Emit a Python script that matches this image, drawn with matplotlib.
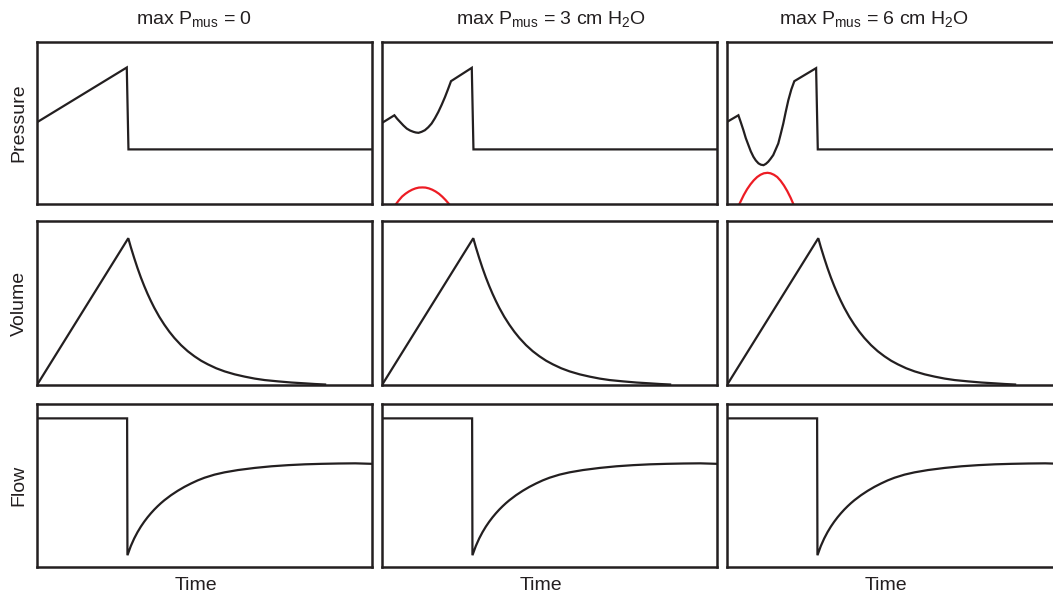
import matplotlib
matplotlib.use("Agg")
import matplotlib.pyplot as plt

plt.rcParams['font.family'] = ['Liberation Sans', 'DejaVu Sans']
plt.rcParams['mathtext.default'] = 'regular'

# ---------------- data (time and values in arbitrary units 0-100) ----------------
col_titles = ["max P$_{mus}$ = 0", "max P$_{mus}$ = 3 cm H$_2$O", "max P$_{mus}$ = 6 cm H$_2$O"]
row_labels = ["Pressure", "Volume", "Flow"]
x_label = "Time"

# Airway pressure, column 1 (no muscle effort)
p0_t = [0, 26.8, 27.3, 100]
p0_v = [50.3, 84.0, 33.6, 33.6]

# Airway pressure, column 2 (Pmus = 3)
p3_t = [0, 3.7, 4.5, 5.4, 6.4, 7.4, 8.4, 9.4, 10.1, 10.9, 11.8, 12.8, 13.8, 14.8,
        15.8, 16.8, 17.8, 18.8, 19.7, 20.6, 26.8, 27.3, 100]
p3_v = [49.9, 54.6, 52.5, 50.5, 48.3, 46.4, 45.2, 44.4, 44.0, 43.8, 44.4, 45.4, 47.2, 49.5,
        52.8, 56.6, 61.0, 65.8, 70.6, 75.6, 83.8, 33.6, 33.6]

# Airway pressure, column 3 (Pmus = 6)
p6_t = [0, 3.4, 4.1, 4.9, 5.6, 6.4, 7.1, 7.9, 8.6, 9.4, 10.1, 10.9, 11.6, 12.3, 13.0,
        13.8, 14.5, 15.3, 16.0, 16.8, 17.5, 18.3, 19.2, 20.1, 26.6, 27.1, 100]
p6_v = [50.5, 54.6, 50.4, 45.4, 40.6, 36.2, 32.4, 29.0, 26.8, 25.0, 24.2, 23.9, 24.7, 26.0, 27.8,
        30.1, 33.4, 37.2, 42.8, 49.5, 56.4, 63.8, 70.5, 75.6, 83.6, 33.6, 33.6]

# Muscle pressure (red)
m3_t = [4.2, 5, 6, 7, 8, 9, 10, 11, 12.1, 13, 14, 15, 16, 17, 18, 19, 20]
m3_v = [0, 2.2, 4.6, 6.3, 7.7, 8.8, 9.6, 10.1, 10.2, 10.1, 9.6, 8.8, 7.7, 6.3, 4.5, 2.4, 0]
m6_t = [3.7, 5, 6, 7, 8, 9, 10, 11, 12.1, 13, 14, 15, 16, 17, 18, 19, 19.8]
m6_v = [0, 5.5, 9.1, 12.1, 14.6, 16.6, 18.0, 18.9, 19.2, 18.9, 18.0, 16.6, 14.3, 11.4, 7.9, 3.8, 0]

# Volume (same in all columns)
vol_t = [0, 27.25, 28, 29, 30, 31, 32, 33, 34, 35, 36.5, 38, 39.5, 41, 43, 45, 47, 49, 51,
         53.5, 56, 59, 62, 65, 68, 72, 76, 80, 83, 86]
vol_v = [0, 89.5, 84.1, 77.5, 71.3, 65.6, 60.4, 55.6, 51.2, 47.1, 41.6, 36.8, 32.5, 28.7, 24.3,
         20.6, 17.5, 14.8, 12.6, 10.2, 8.3, 6.5, 5.1, 3.9, 3.0, 2.2, 1.5, 1.0, 0.6, 0.3]

# Flow (same in all columns)
flow_t = [0, 26.9, 27.0, 28, 29, 30, 31, 32, 33, 34, 35, 36, 37, 38, 40, 42, 44, 46, 48, 50,
          53, 56, 60, 65, 70, 75, 80, 85, 90, 95, 100]
flow_v = [90.9, 90.9, 7.2, 12.8, 17.4, 21.3, 24.7, 27.7, 30.4, 32.85, 35.1, 37.15, 39.05, 40.8,
          43.9, 46.6, 49.0, 51.1, 53.0, 54.6, 56.5, 57.9, 59.3, 60.6, 61.6, 62.3, 62.8, 63.1,
          63.3, 63.4, 63.1]

pressure_series = [(p0_t, p0_v), (p3_t, p3_v), (p6_t, p6_v)]
muscle_series = [None, (m3_t, m3_v), (m6_t, m6_v)]

# ---------------- layout ----------------
W, H = 1053, 599
fig = plt.figure(figsize=(W / 100, H / 100), dpi=100)

col_left = [37, 382, 727]
col_w = 335
rows = [(41.5, 204), (221, 385), (403.5, 567)]

black = '#231f20'
red = '#ed1c24'
lw = 1.6

def add_ax(c, r):
    x0 = col_left[c]
    top, bot = rows[r]
    ax = fig.add_axes([x0 / W, 1 - bot / H, col_w / W, (bot - top) / H])
    ax.set_xlim(0, 100)
    ax.set_ylim(0, 100)
    ax.set_xticks([])
    ax.set_yticks([])
    for s in ax.spines.values():
        s.set_linewidth(1.8)
        s.set_color(black)
    return ax

for c in range(3):
    ax = add_ax(c, 0)
    t, v = pressure_series[c]
    ax.plot(t, v, color=black, lw=lw, solid_joinstyle='miter')
    if muscle_series[c] is not None:
        mt, mv = muscle_series[c]
        ax.plot(mt, mv, color=red, lw=lw)
    ax = add_ax(c, 1)
    ax.plot(vol_t, vol_v, color=black, lw=lw, solid_joinstyle='miter')
    ax = add_ax(c, 2)
    ax.plot(flow_t, flow_v, color=black, lw=lw, solid_joinstyle='miter')

# titles
title_x = [194, 551, 874]
for c in range(3):
    fig.text(title_x[c] / W, 1 - 19 / H, col_titles[c], ha='center', va='center',
             fontsize=14, color=black)

# row labels
for r in range(3):
    top, bot = rows[r]
    fig.text(19 / W, 1 - ((top + bot) / 2) / H, row_labels[r], rotation=90,
             ha='center', va='center', fontsize=14, color=black)

# x labels
time_x = [196, 541, 886]
for c in range(3):
    fig.text(time_x[c] / W, 1 - 585 / H, x_label, ha='center', va='center',
             fontsize=14, color=black)

fig.savefig("out.png", dpi=100)
